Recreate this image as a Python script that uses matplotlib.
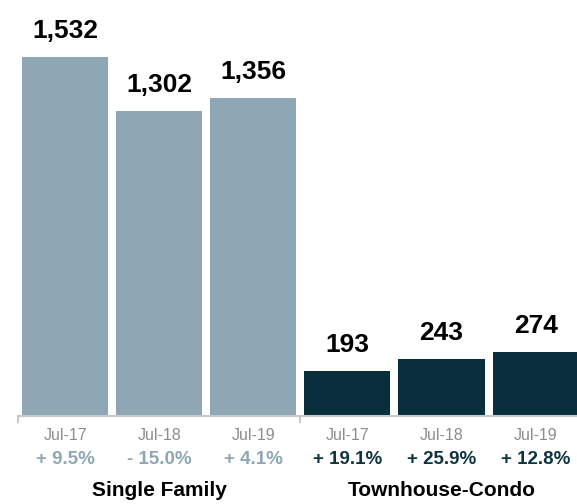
import numpy as np
import matplotlib.pyplot as plt

plt.rcParams["font.family"] = ["Liberation Sans", "DejaVu Sans"]

# data
periods    = ["Jul-17", "Jul-18", "Jul-19"]
groups     = ["Single Family", "Townhouse-Condo"]
single_fam = [1532, 1302, 1356]
townhouse  = [193, 243, 274]
single_chg = ["+ 9.5%", "- 15.0%", "+ 4.1%"]
town_chg   = ["+ 19.1%", "+ 25.9%", "+ 12.8%"]

LIGHT = "#8fa7b5"
DARK  = "#0a2f3c"
GREY  = "#8c8c8c"

values  = single_fam + townhouse
changes = single_chg + town_chg
colors  = [LIGHT] * 3 + [DARK] * 3
chg_col = [LIGHT] * 3 + ["#0d3440"] * 3
x = np.arange(len(values))

fig = plt.figure(figsize=(5.77, 5.04), dpi=100)
ax = fig.add_axes([18 / 577, 88 / 504, 559 / 577, 416 / 504])

ax.bar(x, values, width=0.915, color=colors)
ax.set_xlim(-0.5, 5.44)
ax.set_ylim(0, 1775)

# value labels on top of bars
for xi, v in zip(x, values):
    ax.annotate(f"{v:,}", (xi, v), xytext=(0, 10), textcoords="offset points",
                ha="center", va="bottom", fontsize=19, fontweight="bold", color="black")

# period + change labels below axis
for xi, p, c, cc in zip(x, periods * 2, changes, chg_col):
    ax.annotate(p, (xi, 0), xycoords=("data", "axes fraction"), xytext=(0, -14),
                textcoords="offset points", ha="center", va="center",
                fontsize=11.5, color=GREY)
    ax.annotate(c, (xi, 0), xycoords=("data", "axes fraction"), xytext=(0, -31),
                textcoords="offset points", ha="center", va="center",
                fontsize=13.5, fontweight="bold", color=cc)

for gx, g in zip([1, 4], groups):
    ax.annotate(g, (gx, 0), xycoords=("data", "axes fraction"), xytext=(0, -54),
                textcoords="offset points", ha="center", va="center",
                fontsize=15, fontweight="bold", color="black")

# axis styling
for s in ["top", "right", "left"]:
    ax.spines[s].set_visible(False)
ax.spines["bottom"].set_color("#c8c8c8")
ax.spines["bottom"].set_linewidth(1.5)
ax.set_yticks([])
ax.set_xticks([-0.5, 2.5])
ax.set_xticklabels([])
ax.tick_params(axis="x", length=5, width=1.5, color="#c8c8c8")

plt.savefig("out.png", dpi=100)
